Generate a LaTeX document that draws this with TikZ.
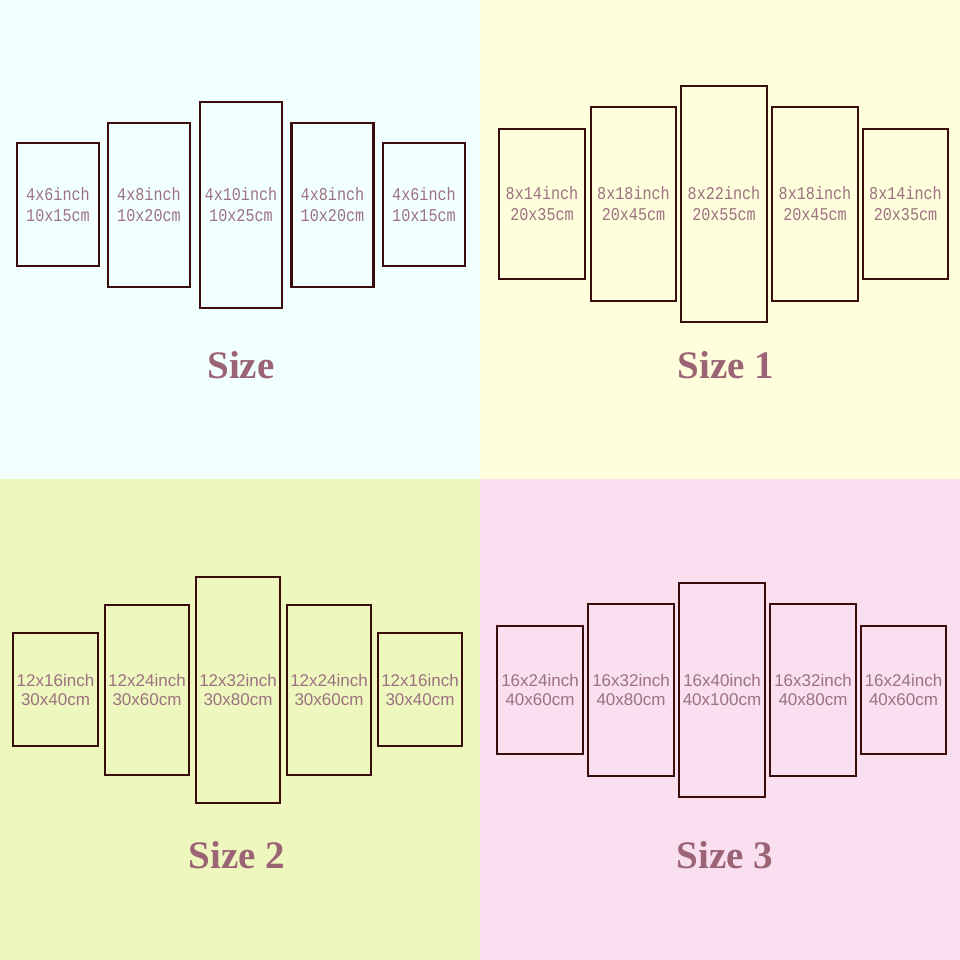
\documentclass[tikz,border=0pt]{standalone}
\usepackage{fontspec}
\newfontfamily\monof[FakeStretch=0.84]{Liberation Mono}
\newfontfamily\sansf{Liberation Sans}
\newfontfamily\titlef{Liberation Serif}
\definecolor{bgA}{HTML}{F2FFFF}
\definecolor{bgB}{HTML}{FEFDDC}
\definecolor{bgC}{HTML}{EEF7BE}
\definecolor{bgD}{HTML}{F9DFF0}
\definecolor{framec}{HTML}{3A0C0C}
\definecolor{labelc}{HTML}{9C7280}
\definecolor{titlec}{HTML}{9B6474}
\tikzset{
  panelbox/.style={draw=framec, line width=2.4pt, inner sep=0pt, align=center, text=labelc},
  monolab/.style={panelbox, font=\monof\fontsize{18}{21}\selectfont},
  sanslab/.style={panelbox, font=\sansf\fontsize{17}{19}\selectfont},
  sizetitle/.style={text=titlec, font=\titlef\bfseries\fontsize{39}{39}\selectfont, inner sep=0pt}
}
\begin{document}
\begin{tikzpicture}[x=1pt,y=-1pt]
\useasboundingbox (0,0) rectangle (960,960);
\fill[bgA] (0,0) rectangle (480,479);
\fill[bgB] (480,0) rectangle (960,479);
\fill[bgC] (0,479) rectangle (480,960);
\fill[bgD] (480,479) rectangle (960,960);
% Size
\node[monolab, minimum width=82pt, minimum height=123pt] (a1) at (58,204.5) {4x6inch\\10x15cm};
\node[monolab, minimum width=82pt, minimum height=164pt] (a2) at (149,205) {4x8inch\\10x20cm};
\node[monolab, minimum width=82pt, minimum height=206pt] (a3) at (241,205) {4x10inch\\10x25cm};
\node[monolab, minimum width=82pt, minimum height=164pt] (a4) at (332.5,205) {4x8inch\\10x20cm};
\node[monolab, minimum width=82pt, minimum height=123pt] (a5) at (424,204.5) {4x6inch\\10x15cm};
\node[sizetitle] (ta) at (241,365) {Size};
% Size 1
\node[monolab, minimum width=86pt, minimum height=150pt] (b1) at (542,204) {8x14inch\\20x35cm};
\node[monolab, minimum width=85pt, minimum height=194pt] (b2) at (633.5,204) {8x18inch\\20x45cm};
\node[monolab, minimum width=86pt, minimum height=236pt] (b3) at (724,204) {8x22inch\\20x55cm};
\node[monolab, minimum width=86pt, minimum height=194pt] (b4) at (815,204) {8x18inch\\20x45cm};
\node[monolab, minimum width=85pt, minimum height=150pt] (b5) at (905.5,204) {8x14inch\\20x35cm};
\node[sizetitle] (tb) at (726,365) {Size 1};
% Size 2
\node[sanslab, minimum width=85pt, minimum height=113pt] (c1) at (55.5,689.5) {12x16inch\\30x40cm};
\node[sanslab, minimum width=84pt, minimum height=170pt] (c2) at (147,690) {12x24inch\\30x60cm};
\node[sanslab, minimum width=84pt, minimum height=226pt] (c3) at (238,690) {12x32inch\\30x80cm};
\node[sanslab, minimum width=84pt, minimum height=170pt] (c4) at (329,690) {12x24inch\\30x60cm};
\node[sanslab, minimum width=84pt, minimum height=113pt] (c5) at (420,689.5) {12x16inch\\30x40cm};
\node[sizetitle] (tc) at (237,855) {Size 2};
% Size 3
\node[sanslab, minimum width=86pt, minimum height=128pt] (d1) at (540,690) {16x24inch\\40x60cm};
\node[sanslab, minimum width=86pt, minimum height=172pt] (d2) at (631,690) {16x32inch\\40x80cm};
\node[sanslab, minimum width=86pt, minimum height=214pt] (d3) at (722,690) {16x40inch\\40x100cm};
\node[sanslab, minimum width=86pt, minimum height=172pt] (d4) at (813,690) {16x32inch\\40x80cm};
\node[sanslab, minimum width=85pt, minimum height=128pt] (d5) at (903.5,690) {16x24inch\\40x60cm};
\node[sizetitle] (td) at (725,855) {Size 3};
\end{tikzpicture}
\end{document}
